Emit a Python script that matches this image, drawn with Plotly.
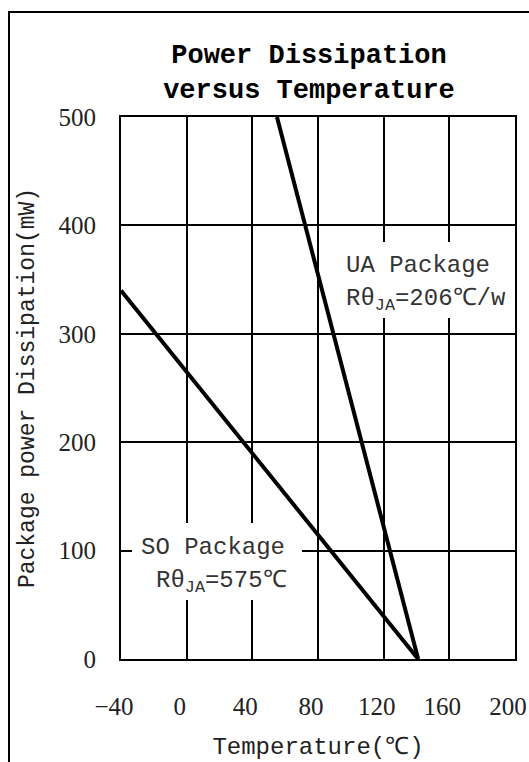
import plotly.graph_objects as go

# Data
so_temp = [-40, 141]
so_power = [340, 0]
ua_temp = [55, 141]
ua_power = [500, 0]

x_ticks = [-40, 0, 40, 80, 120, 160, 200]
x_ticktext = ["\u221240", "0", "40", "80", "120", "160", "200"]
y_ticks = [0, 100, 200, 300, 400, 500]

W, H = 529, 762
L, R, T, B = 121, 14, 117, 103
pw, ph = W - L - R, H - T - B

def px(xp):  # page pixel -> paper x
    return (xp - L) / pw

def py(yp):  # page pixel -> paper y
    return (H - B - yp) / ph

mono = "Liberation Mono, DejaVu Sans Mono, monospace"
serif = "Liberation Serif, DejaVu Serif, serif"
txt = "#222222"

fig = go.Figure()
fig.add_trace(go.Scatter(x=so_temp, y=so_power, mode="lines",
                         line=dict(color="black", width=4), showlegend=False))
fig.add_trace(go.Scatter(x=ua_temp, y=ua_power, mode="lines",
                         line=dict(color="black", width=4), showlegend=False))

fig.update_layout(
    width=W, height=H,
    margin=dict(l=L, r=R, t=T, b=B, autoexpand=False),
    paper_bgcolor="white", plot_bgcolor="white",
    title=dict(text="Power Dissipation<br>versus Temperature",
               x=309 / W, xanchor="center",
               y=1 - 63 / H, yanchor="middle",
               font=dict(family=mono, size=27, color="black", weight="bold")),
)

fig.update_xaxes(range=[-40, 200], tickvals=x_ticks, ticktext=x_ticktext,
                 automargin=False, ticklabeloverflow="allow",
                 showgrid=True, gridcolor="black", gridwidth=1.5,
                 showline=True, linecolor="black", linewidth=2, mirror=True,
                 zeroline=False, ticks="", ticklabelstandoff=24,
                 ticklabelshift=-7,
                 tickfont=dict(family=serif, size=25, color=txt),
                 title=dict(text="Temperature(℃)", standoff=18,
                            font=dict(family=mono, size=24, color=txt)))
fig.update_yaxes(range=[0, 500], tickvals=y_ticks,
                 automargin=False,
                 showgrid=True, gridcolor="black", gridwidth=1.5,
                 showline=True, linecolor="black", linewidth=2, mirror=True,
                 zeroline=False, ticks="", ticklabelstandoff=18,
                 tickfont=dict(family=serif, size=25, color=txt),
                 title=dict(text="Package power Dissipation(mW)", standoff=17,
                            font=dict(family=mono, size=23, color=txt)))

# Outer frame (cut off at right and bottom, as in the reference)
fig.add_shape(type="rect", xref="paper", yref="paper",
              x0=px(9), x1=px(580), y0=py(800), y1=py(12),
              line=dict(color="black", width=2), layer="above")

# White mask boxes behind labels
fig.add_shape(type="rect", xref="paper", yref="paper",
              x0=px(338), x1=px(503), y0=py(318), y1=py(242),
              fillcolor="white", line=dict(width=0), layer="above")
fig.add_shape(type="rect", xref="paper", yref="paper",
              x0=px(132), x1=px(302), y0=py(600), y1=py(523),
              fillcolor="white", line=dict(width=0), layer="above")

ann_font = dict(family=mono, size=24, color="#333333")
labels = [
    ("UA Package", 344, 265),
    ("R\u03b8<sub>JA</sub>=206℃/w", 344, 300),
    ("SO Package", 139, 547),
    ("R\u03b8<sub>JA</sub>=575℃", 154, 582),
]
for text, xl, yc in labels:
    fig.add_annotation(text=text, xref="paper", yref="paper",
                       x=px(xl), y=py(yc), xanchor="left", yanchor="middle",
                       showarrow=False, font=ann_font)

fig.write_html(
    "out.html",
    config={"displayModeBar": False},
    post_script="document.body.style.margin='0';document.body.style.overflow='hidden';",
)
